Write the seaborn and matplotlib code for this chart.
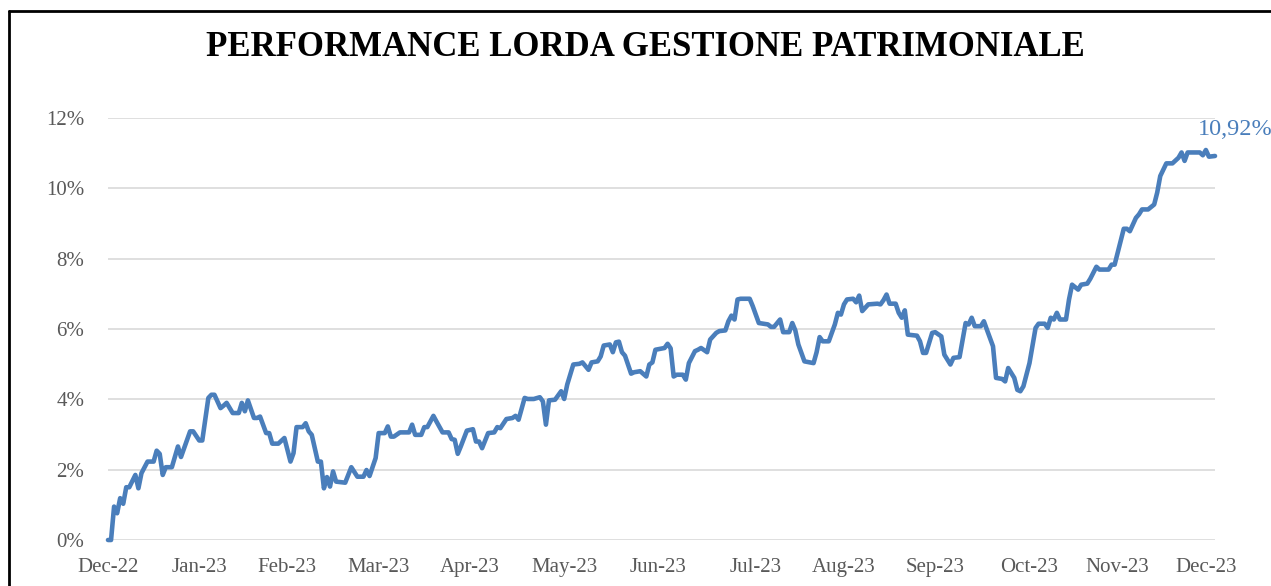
import pandas as pd
import matplotlib.pyplot as plt
from matplotlib.lines import Line2D
from matplotlib.ticker import FuncFormatter
import seaborn as sns

# dati: giorni dall'inizio e performance lorda in %
inizio = "2022-12-30"
giorni = [0, 1, 2, 3, 4, 5, 6, 7, 9, 10,
          11, 13, 15, 16, 17, 18, 19, 21, 23, 24,
          27, 28, 30, 31, 33, 34, 35, 37, 38, 39,
          41, 43, 44, 45, 46, 48, 49, 50, 52, 53,
          54, 56, 58, 60, 61, 62, 64, 65, 66, 67,
          69, 70, 71, 72, 73, 74, 75, 78, 80, 82,
          84, 85, 86, 88, 89, 91, 92, 93, 94, 96,
          99, 100, 101, 103, 104, 105, 107, 108, 110, 112,
          113, 114, 115, 116, 118, 120, 121, 122, 123, 125,
          127, 128, 129, 131, 133, 134, 135, 137, 138, 140,
          142, 143, 144, 145, 147, 149, 150, 151, 153, 155,
          156, 158, 159, 161, 162, 163, 165, 166, 167, 168,
          169, 170, 172, 173, 175, 177, 178, 179, 180, 183,
          184, 185, 186, 187, 189, 190, 191, 193, 194, 195,
          197, 198, 200, 201, 203, 204, 205, 206, 207, 208,
          211, 212, 214, 217, 218, 219, 221, 222, 224, 225,
          226, 227, 229, 232, 233, 234, 235, 237, 239, 240,
          241, 242, 243, 245, 246, 247, 248, 250, 253, 254,
          255, 256, 257, 259, 260, 261, 262, 263, 266, 267,
          268, 269, 271, 272, 274, 275, 277, 278, 280, 282,
          283, 284, 285, 287, 288, 289, 291, 292, 294, 295,
          296, 298, 299, 300, 301, 303, 305, 306, 308, 309,
          310, 311, 312, 313, 315, 316, 317, 319, 320, 322,
          323, 325, 326, 329, 330, 331, 332, 334, 335, 336,
          338, 339, 340, 342, 344, 345, 346, 348, 350, 352,
          353, 354, 355, 359, 360, 361, 362, 364]
perf = [0.00, 0.00, 0.95, 0.76, 1.19, 1.03, 1.50, 1.50, 1.85, 1.47,
        1.90, 2.23, 2.23, 2.54, 2.45, 1.85, 2.07, 2.07, 2.66, 2.36,
        3.09, 3.09, 2.83, 2.83, 4.04, 4.13, 4.13, 3.75, 3.82, 3.90,
        3.61, 3.61, 3.90, 3.66, 3.97, 3.47, 3.47, 3.51, 3.04, 3.04,
        2.74, 2.74, 2.90, 2.23, 2.47, 3.21, 3.21, 3.32, 3.09, 2.99,
        2.23, 2.23, 1.47, 1.79, 1.52, 1.95, 1.66, 1.63, 2.07, 1.80,
        1.80, 1.99, 1.82, 2.33, 3.04, 3.04, 3.23, 2.94, 2.94, 3.06,
        3.06, 3.28, 2.99, 2.99, 3.21, 3.21, 3.53, 3.37, 3.06, 3.06,
        2.87, 2.85, 2.45, 2.66, 3.11, 3.15, 2.80, 2.80, 2.61, 3.04,
        3.06, 3.21, 3.18, 3.44, 3.47, 3.53, 3.42, 4.04, 4.01, 4.01,
        4.06, 3.94, 3.28, 3.97, 3.99, 4.23, 4.01, 4.42, 4.99, 5.01,
        5.05, 4.84, 5.05, 5.08, 5.22, 5.53, 5.56, 5.34, 5.62, 5.64,
        5.34, 5.24, 4.73, 4.77, 4.80, 4.65, 4.99, 5.05, 5.41, 5.46,
        5.58, 5.45, 4.65, 4.70, 4.70, 4.56, 5.03, 5.37, 5.41, 5.46,
        5.34, 5.70, 5.89, 5.94, 5.96, 6.22, 6.38, 6.27, 6.84, 6.86,
        6.86, 6.65, 6.17, 6.13, 6.06, 6.06, 6.27, 5.91, 5.91, 6.17,
        5.96, 5.56, 5.08, 5.03, 5.34, 5.77, 5.65, 5.65, 6.13, 6.46,
        6.41, 6.70, 6.84, 6.86, 6.76, 6.95, 6.51, 6.70, 6.72, 6.70,
        6.82, 6.98, 6.72, 6.72, 6.46, 6.32, 6.53, 5.84, 5.81, 5.65,
        5.32, 5.32, 5.89, 5.91, 5.79, 5.27, 4.99, 5.18, 5.20, 6.17,
        6.13, 6.32, 6.08, 6.08, 6.22, 5.98, 5.51, 4.61, 4.58, 4.51,
        4.89, 4.61, 4.27, 4.23, 4.37, 5.03, 6.03, 6.15, 6.15, 6.03,
        6.32, 6.27, 6.46, 6.27, 6.27, 6.84, 7.26, 7.12, 7.26, 7.29,
        7.43, 7.77, 7.69, 7.69, 7.83, 7.83, 8.17, 8.85, 8.85, 8.78,
        9.16, 9.26, 9.40, 9.40, 9.54, 9.88, 10.35, 10.71, 10.71, 10.87,
        11.02, 10.78, 11.02, 11.02, 10.94, 11.09, 10.90, 10.92]

tick_date = ["2022-12-30", "2023-01-29", "2023-02-27", "2023-03-29", "2023-04-28",
             "2023-05-29", "2023-06-29", "2023-07-31", "2023-08-29", "2023-09-28",
             "2023-10-29", "2023-11-27", "2023-12-26"]
tick_lab = ["Dec-22", "Jan-23", "Feb-23", "Mar-23", "Apr-23", "May-23", "Jun-23",
            "Jul-23", "Aug-23", "Sep-23", "Oct-23", "Nov-23", "Dec-23"]
y_ticks = [0, 2, 4, 6, 8, 10, 12]

titolo = "PERFORMANCE LORDA GESTIONE PATRIMONIALE"
blu = "#4A7EBB"

df = pd.DataFrame({"data": pd.Timestamp(inizio) + pd.to_timedelta(giorni, unit="D"),
                   "perf": perf})

sns.set_style("white")
plt.rcParams["font.family"] = ["Liberation Serif", "DejaVu Serif"]

W, H = 1271, 586
fig = plt.figure(figsize=(W / 100, H / 100), dpi=100)
ax = fig.add_axes([108 / W, 46 / H, 1107 / W, 422 / H])

sns.lineplot(data=df, x="data", y="perf", ax=ax, color=blu, linewidth=3.3,
             solid_joinstyle="round", clip_on=False)

ax.set_ylim(0, 12)
ax.set_xlim(df["data"].iloc[0], df["data"].iloc[-1])
ax.set_yticks(y_ticks)
ax.yaxis.set_major_formatter(FuncFormatter(lambda v, p: f"{v:.0f}%"))
ax.set_xticks(pd.to_datetime(tick_date))
ax.set_xticklabels(tick_lab)
ax.grid(axis="y", color="#D9D9D9", linewidth=1.2)
ax.set_axisbelow(True)
for s in ax.spines.values():
    s.set_visible(False)
ax.tick_params(axis="y", length=0, pad=17, labelsize=15, labelcolor="#595959")
ax.tick_params(axis="x", length=0, pad=13, labelsize=15, labelcolor="#595959")
ax.set_xlabel("")
ax.set_ylabel("")

# etichetta ultimo valore
ultimo = f"{perf[-1]:.2f}%".replace(".", ",")
ax.annotate(ultimo, xy=(df["data"].iloc[-1], perf[-1]), xytext=(-17, 26),
            textcoords="offset pixels", ha="left", va="center",
            fontsize=17.5, color=blu, annotation_clip=False)

fig.text(645 / W, 1 - 48 / H, titolo, ha="center", va="center",
         fontsize=25, fontweight="bold", color="black")

# cornice (solo lato sinistro e superiore visibili)
fig.add_artist(Line2D([9 / W, 9 / W], [0, 1 - 11 / H], color="black", lw=2))
fig.add_artist(Line2D([9 / W, 1], [1 - 11 / H, 1 - 11 / H], color="black", lw=2))

fig.savefig("out.png", dpi=100)
